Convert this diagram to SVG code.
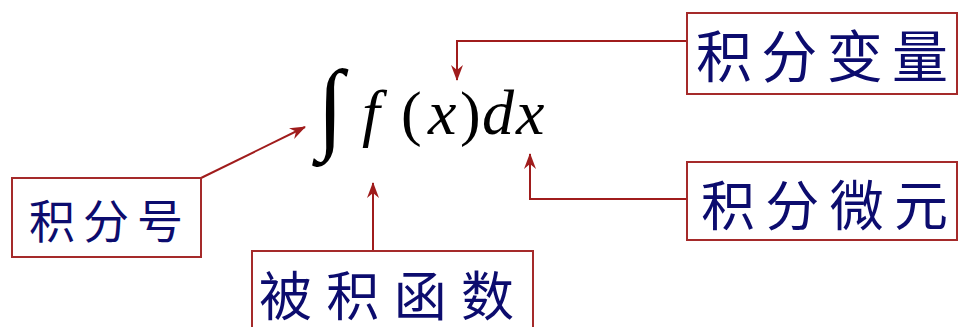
<svg xmlns="http://www.w3.org/2000/svg" width="958" height="327" viewBox="0 0 958 327">
<style>
.box{fill:#fff;stroke:#a52a2a;stroke-width:2}
.lbl{font-family:"Noto Sans CJK SC","Noto Sans CJK JP",sans-serif;fill:#0c0c6e;font-weight:400}
.con{fill:none;stroke:#a01c1c;stroke-width:2}
.math{font-family:"Liberation Serif","Times New Roman",serif;font-style:italic;fill:#000;font-size:64px}
.up{font-family:"Liberation Serif","Times New Roman",serif;fill:#000;font-size:62px}
</style>
<defs>
<marker id="ah" viewBox="0 0 16 12" refX="15" refY="6" markerWidth="16" markerHeight="12" markerUnits="userSpaceOnUse" orient="auto">
<path d="M0,0 L16,6 L0,12 L5,6 Z" fill="#a01c1c"/>
</marker>
</defs>
<g id="formula">
<text x="317" y="148" font-family="Liberation Serif, serif" font-size="96" transform="translate(0,-15) scale(1,1.05)">∫</text>
<text class="math" x="362" y="134">f</text>
<text class="up" x="401" y="134">(</text>
<text class="math" x="428" y="134">x</text>
<text class="up" x="460" y="134">)</text>
<text class="math" x="482" y="134">d</text>
<text class="math" x="516" y="134">x</text>
</g>
<g id="connectors">
<path class="con" d="M687,41 H457 V80" marker-end="url(#ah)"/>
<path class="con" d="M687,199 H530 V154" marker-end="url(#ah)"/>
<path class="con" d="M201,178 L305,127" marker-end="url(#ah)"/>
<path class="con" d="M373,251 V183" marker-end="url(#ah)"/>
</g>
<g id="n-var">
<rect class="box" x="687" y="13" width="270" height="81"/>
<text class="lbl" x="696" y="77" font-size="56" textLength="252" lengthAdjust="spacing">积分变量</text>
</g>
<g id="n-diff">
<rect class="box" x="687" y="162" width="270" height="78"/>
<text class="lbl" x="701" y="226" font-size="54" textLength="247" lengthAdjust="spacing">积分微元</text>
</g>
<g id="n-int">
<rect class="box" x="12" y="178" width="189" height="79"/>
<text class="lbl" x="29" y="238" font-size="46" textLength="154" lengthAdjust="spacing">积分号</text>
</g>
<g id="n-integrand">
<rect class="box" x="252" y="251" width="281" height="90"/>
<text class="lbl" x="259" y="316" font-size="53" textLength="255" lengthAdjust="spacing">被积函数</text>
</g>
</svg>
